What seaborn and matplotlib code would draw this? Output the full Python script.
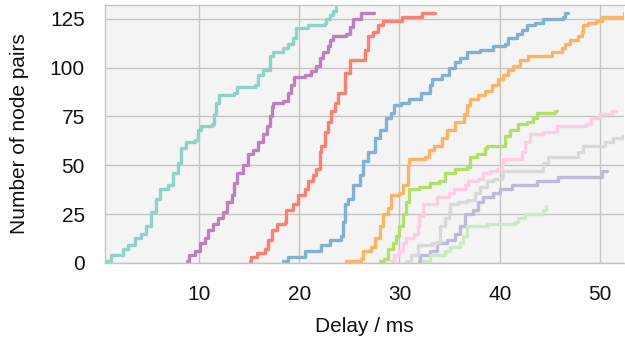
import numpy as np
import pandas as pd
import matplotlib
matplotlib.use("Agg")
import matplotlib.pyplot as plt
import seaborn as sns

# ---- data: (delay in ms, cumulative number of node pairs) knots ----
teal_x = [0.66, 1.26, 2.4, 2.9, 3.6, 4.25, 4.75, 5.25, 5.75, 6.1, 6.9, 7.4, 7.9, 8.25, 8.75, 9.6, 9.9, 10.2,
          11.3, 11.5, 11.7, 12.0, 13.5, 13.8, 15.6, 15.9, 16.4, 17.1, 17.4, 18.4, 18.9, 19.4, 19.7, 20.9,
          22.6, 22.7, 23.1, 23.4, 23.7]
teal_y = [1, 4, 7, 9, 13, 15, 19, 26, 33, 38, 40, 46, 51, 59, 62, 63, 68, 70,
          71, 76, 82, 86, 87, 90, 91, 96, 99, 106, 108, 110, 112, 115, 120, 122,
          123, 125, 127, 129, 131]

purple_x = [8.77, 9.0, 9.6, 10.1, 10.6, 10.9, 11.4, 11.9, 12.4, 12.8, 13.3, 13.5, 13.75, 14.4, 14.9, 15.4,
            15.9, 16.4, 16.75, 17.1, 17.25, 17.4, 18.4, 18.9, 19.2, 19.5, 20.6, 21.2, 21.7, 22.1, 22.4,
            22.9, 23.1, 23.4, 24.7, 25.05, 25.4, 26.2, 27.5]
purple_y = [1, 4, 6, 10, 13, 17, 20, 23, 26, 31, 35, 41, 46, 50, 56, 58,
            62, 66, 70, 75, 80, 82, 83, 87, 91, 95, 96, 98, 101, 105, 108,
            111, 114, 116, 117, 121, 125, 128, 128]

red_x = [15.1, 15.2, 15.75, 16.6, 16.9, 17.25, 17.75, 18.6, 18.7, 19.4, 19.9, 20.6, 20.9, 21.4, 21.7, 22.1,
         22.2, 22.6, 22.9, 23.2, 23.6, 23.9, 24.6, 25.05, 26.55, 26.9, 27.4, 27.9, 28.4, 30.3, 32.3, 33.5]
red_y = [1, 3, 5, 7, 12, 17, 20, 21, 27, 30, 35, 38, 42, 45, 48, 57,
         60, 67, 72, 78, 82, 87, 97, 104, 109, 116, 118, 122, 124, 126, 128, 128]

blue_x = [18.4, 18.9, 20.6, 22.2, 23.1, 24.2, 24.4, 24.55, 24.9, 25.4, 26.05, 26.4, 26.9, 27.55, 28.05,
          28.7, 29.2, 29.5, 30.2, 31.0, 32.2, 33.0, 33.2, 34.2, 34.9, 35.5, 36.0, 36.7, 38.0, 39.3, 40.5,
          40.8, 41.7, 42.2, 42.7, 43.5, 44.3, 46.3, 46.5, 46.8]
blue_y = [1, 3, 6, 9, 12, 14, 21, 30, 33, 40, 45, 52, 57, 64, 68,
          74, 77, 81, 82, 84, 87, 91, 94, 96, 100, 103, 105, 108, 109, 111, 112,
          115, 117, 119, 122, 123, 125, 126, 128, 128]

orange_x = [24.7, 26.2, 26.4, 27.2, 27.55, 28.05, 28.4, 28.9, 29.2, 30.0, 30.4, 30.9, 31.0, 32.5, 32.9, 33.4,
            34.2, 34.7, 35.5, 36.4, 36.7, 37.0, 37.8, 38.5, 39.2, 39.8, 40.3, 40.8, 41.3, 42.0, 42.8, 45.2,
            46.2, 46.5, 47.0, 47.8, 48.2, 48.3, 48.8, 49.65, 50.2, 52.4]
orange_y = [1, 2, 6, 8, 13, 19, 25, 28, 35, 36, 40, 50, 53, 54, 58, 60,
            64, 68, 72, 76, 81, 84, 86, 88, 91, 94, 96, 99, 101, 104, 106, 108,
            110, 112, 114, 116, 118, 122, 123, 124, 126, 128]

green_x = [28.05, 28.5, 28.9, 29.4, 29.7, 30.0, 30.4, 30.7, 31.0, 32.0, 33.0, 33.9, 34.5, 35.5, 36.7, 37.0,
           37.7, 38.5, 38.7, 40.5, 41.0, 41.8, 42.7, 43.3, 43.7, 44.3, 45.5, 45.7]
green_y = [1, 2, 7, 10, 14, 19, 25, 31, 38, 39, 41, 42, 46, 48, 49, 54,
           56, 59, 60, 65, 68, 71, 72, 74, 77, 77, 78, 78]

pink_x = [29.2, 29.5, 30.0, 30.4, 30.7, 31.5, 31.9, 32.0, 32.4, 33.7, 34.9, 35.4, 36.5, 36.85, 37.8, 38.35,
          39.0, 39.7, 40.2, 40.3, 42.2, 42.5, 43.0, 44.3, 45.7, 48.65, 49.15, 50.0, 51.2, 51.6]
pink_y = [1, 4, 6, 10, 13, 15, 19, 24, 30, 34, 36, 38, 40, 42, 43, 46,
          47, 48, 50, 53, 57, 62, 66, 67, 70, 71, 74, 76, 78, 78]

gray_x = [30.7, 31.2, 31.9, 33.2, 33.7, 34.0, 34.5, 34.9, 35.0, 35.85, 36.7, 37.5, 38.0, 38.7, 39.3, 40.2,
          40.3, 44.3, 44.8, 47.8, 48.3, 50.5, 51.3, 52.3]
gray_y = [1, 4, 9, 10, 11, 19, 23, 26, 30, 31, 32, 36, 39, 42, 43, 45,
          47, 51, 54, 57, 60, 62, 64, 65]

lavender_x = [32.0, 32.1, 33.0, 33.7, 34.7, 35.5, 36.0, 36.5, 37.35, 37.8, 38.35, 39.35, 40.0, 41.2, 43.7,
              45.8, 50.2, 50.7]
lavender_y = [1, 4, 6, 10, 12, 15, 19, 25, 27, 31, 34, 36, 38, 40, 42,
              44, 47, 47]

lightgreen_x = [32.4, 33.0, 34.5, 35.0, 36.0, 36.35, 36.7, 38.7, 41.5, 41.8, 42.5, 44.3, 44.6]
lightgreen_y = [1, 4, 6, 8, 10, 14, 19, 20, 21, 23, 25, 27, 29]

series = {
    "teal": (teal_x, teal_y, "#8dd3c7"),
    "lavender": (lavender_x, lavender_y, "#bebada"),
    "red": (red_x, red_y, "#fb8072"),
    "blue": (blue_x, blue_y, "#80b1d3"),
    "orange": (orange_x, orange_y, "#fdb462"),
    "green": (green_x, green_y, "#b3de69"),
    "pink": (pink_x, pink_y, "#fccde5"),
    "gray": (gray_x, gray_y, "#d9d9d9"),
    "purple": (purple_x, purple_y, "#bc80bd"),
    "lightgreen": (lightgreen_x, lightgreen_y, "#ccebc5"),
}

frames = []
for name, (xs, ys, _) in series.items():
    frames.append(pd.DataFrame({"delay": xs, "pairs": ys, "series": name}))
df = pd.concat(frames, ignore_index=True)
palette = {name: c for name, (_, _, c) in series.items()}

# ---- style ----
sns.set_theme(style="whitegrid")
grid_c = "#c4c4c4"
plt.rcParams.update({
    "axes.facecolor": "#f4f4f4",
    "axes.edgecolor": grid_c,
    "axes.linewidth": 1.0,
    "grid.color": grid_c,
    "grid.linewidth": 1.0,
    "xtick.color": grid_c,
    "ytick.color": grid_c,
    "xtick.labelcolor": "#111111",
    "ytick.labelcolor": "#111111",
    "axes.labelcolor": "#111111",
})
plt.rcParams["font.family"] = ["Liberation Sans", "DejaVu Sans"]

fig, ax = plt.subplots(figsize=(6.25, 3.42), dpi=100)
fig.subplots_adjust(left=105 / 625, right=624 / 625, bottom=(342 - 263) / 342, top=(342 - 5) / 342)

sns.lineplot(data=df, x="delay", y="pairs", hue="series", palette=palette,
             estimator=None, sort=False, drawstyle="steps-post", linewidth=2.4,
             legend=False, ax=ax)

ax.set_xlim(0.63, 52.4)
ax.set_ylim(0, 132)
ax.set_xticks([10, 20, 30, 40, 50])
ax.set_yticks([0, 25, 50, 75, 100, 125])
ax.tick_params(axis="both", which="major", length=7.5, width=1.0, labelsize=15)
ax.tick_params(axis="x", pad=8)
ax.tick_params(axis="y", pad=7)
ax.set_xlabel("Delay / ms", fontsize=15, labelpad=10)
ax.set_ylabel("Number of node pairs", fontsize=15, labelpad=15)
ax.spines["right"].set_visible(False)
for s in ["top", "left", "bottom"]:
    ax.spines[s].set_visible(True)
    ax.spines[s].set_color(grid_c)
ax.grid(True)

fig.savefig("out.png", dpi=100)
